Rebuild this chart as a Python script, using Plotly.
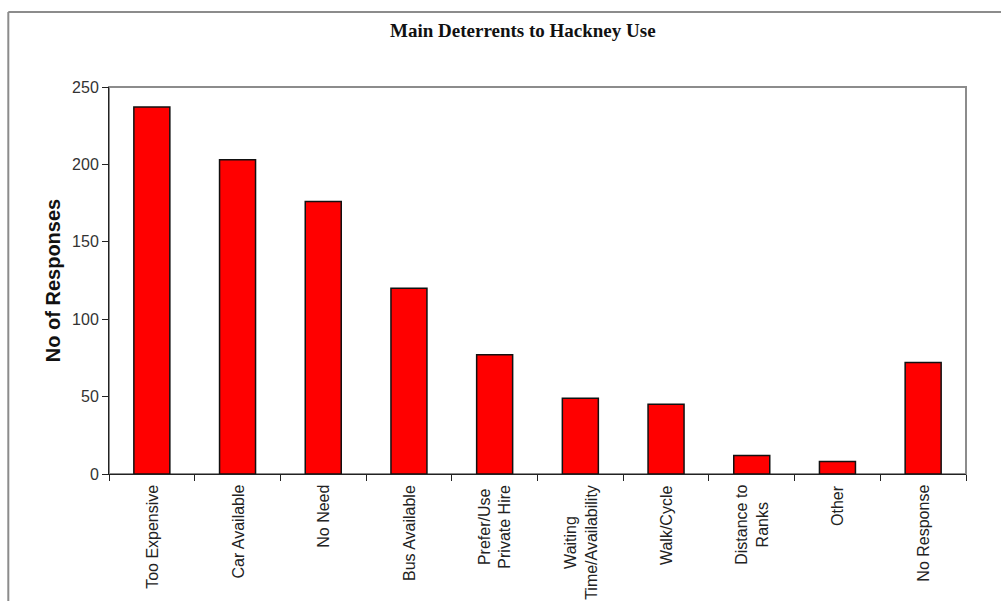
import plotly.graph_objects as go

categories = ["Too Expensive", "Car Available", "No Need", "Bus Available",
              "Prefer/Use<br>Private Hire", "Waiting<br>Time/Availability",
              "Walk/Cycle", "Distance to<br>Ranks", "Other", "No Response"]
responses = [237, 203, 176, 120, 77, 49, 45, 12, 8, 72]
y_ticks = [0, 50, 100, 150, 200, 250]

title_text = "Main Deterrents to Hackney Use"
y_title = "No of Responses"

fig = go.Figure()
fig.add_trace(go.Bar(
    x=categories, y=responses,
    marker=dict(color="#FF0000", line=dict(color="#111111", width=1.5)),
    width=0.42,
))

annotations = []
for c in categories:
    annotations.append(dict(
        x=c, xref="x", y=0, yref="paper", yanchor="top", xanchor="center",
        yshift=-9, text=c, textangle=-90, showarrow=False, align="center",
        font=dict(family="Liberation Sans, Arial, sans-serif", size=16, color="#222222"),
    ))
annotations.append(dict(
    x=0.483, xref="paper", y=1.145, yref="paper", xanchor="center", yanchor="middle",
    text="<b>" + title_text + "</b>", showarrow=False,
    font=dict(family="Liberation Serif, Times New Roman, serif", size=19, color="#111111"),
))

shapes = [
    # plot area frame (gray)
    dict(type="rect", xref="paper", yref="paper", x0=0, x1=1, y0=0, y1=1,
         line=dict(color="#8c8c8c", width=2), layer="below"),
    # outer chart border (left and top visible)
    dict(type="line", xref="paper", yref="paper", x0=-0.1175, x1=-0.1175, y0=1.194, y1=-0.4,
         line=dict(color="#8c8c8c", width=2)),
    dict(type="line", xref="paper", yref="paper", x0=-0.1175, x1=1.1, y0=1.194, y1=1.194,
         line=dict(color="#8c8c8c", width=2)),
]

fig.update_layout(
    width=1001, height=601,
    margin=dict(l=109, r=35, t=87, b=127),
    paper_bgcolor="white", plot_bgcolor="white",
    showlegend=False,
    annotations=annotations,
    shapes=shapes,
    xaxis=dict(
        type="category", range=[-0.5, 9.5], showticklabels=False,
        tickson="boundaries", ticks="outside", ticklen=6, tickcolor="#222222", tickwidth=1,
        showline=True, linecolor="#222222", linewidth=1, showgrid=False, zeroline=False,
    ),
    yaxis=dict(
        range=[0, 250], tickvals=y_ticks, ticks="outside", ticklen=6,
        tickcolor="#222222", tickwidth=1, showline=True, linecolor="#222222", linewidth=1,
        showgrid=False, zeroline=False,
        tickfont=dict(family="Liberation Sans, Arial, sans-serif", size=16, color="#333333"),
        title=dict(text="<b>" + y_title + "</b>", standoff=6,
                   font=dict(family="Liberation Sans, Arial, sans-serif", size=20, color="#111111")),
    ),
)

fig.write_html("out.html", config={"displayModeBar": False},
               post_script="document.body.style.margin='0';")
